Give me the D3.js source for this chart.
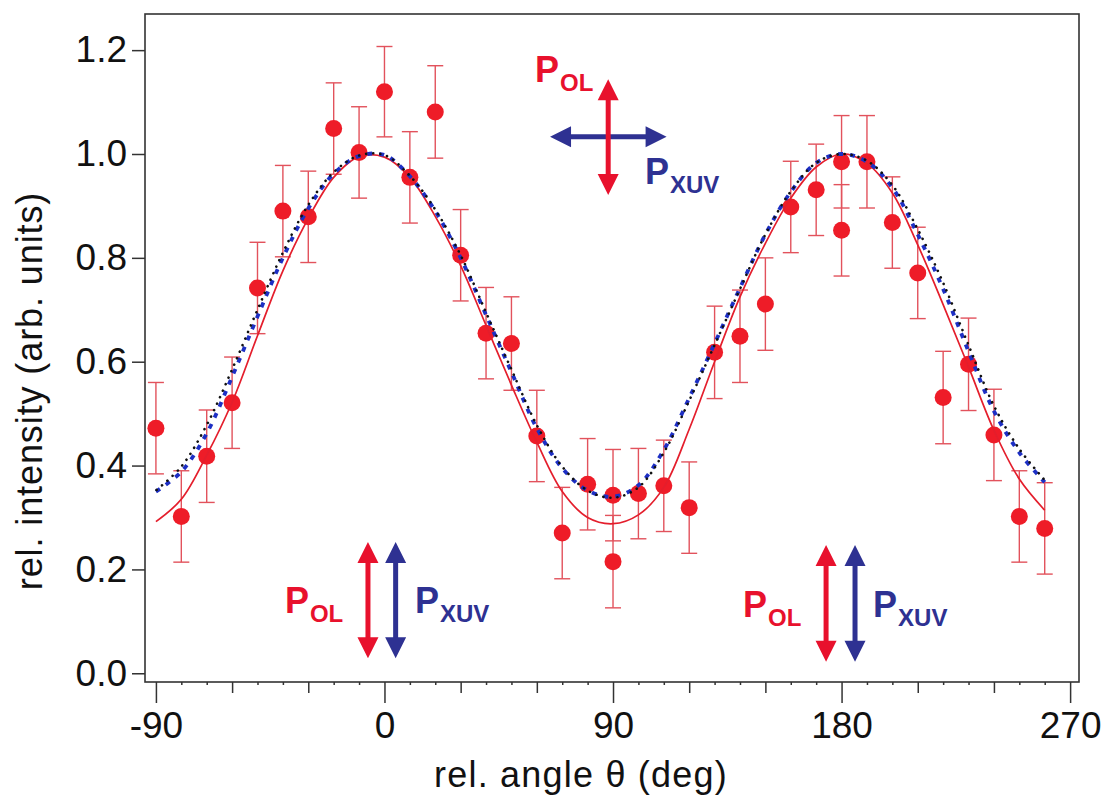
<!DOCTYPE html>
<html>
<head>
<meta charset="utf-8">
<script src="https://cdn.jsdelivr.net/npm/d3@7"></script>
<style>
  html, body { margin: 0; padding: 0; background: #fff; }
  svg { display: block; }
  text { font-family: "Liberation Sans", Arial, Helvetica, sans-serif; }
</style>
</head>
<body>
<svg id="chart" width="1105" height="798"></svg>
<script>
// Measured intensities (red points) vs. relative polarisation angle
const angle = [-90,-80,-70,-60,-50,-40,-30,-20,-10,0,10,20,30,40,50,60,70,80,90,90,
               100,110,120,130,140,150,160,170,180,180,190,200,210,220,230,240,250,260];
const intensity = [0.472,0.302,0.418,0.521,0.742,0.890,0.879,1.049,1.003,1.120,
                   0.955,1.081,0.805,0.655,0.635,0.457,0.270,0.364,0.343,0.215,
                   0.346,0.361,0.319,0.618,0.649,0.711,0.898,0.931,0.985,0.853,
                   0.985,0.868,0.771,0.531,0.595,0.459,0.302,0.279];
const error = [0.088,0.088,0.089,0.088,0.088,0.088,0.088,0.088,0.088,0.087,
               0.088,0.089,0.088,0.088,0.090,0.088,0.088,0.088,0.088,0.089,
               0.087,0.088,0.088,0.089,0.089,0.089,0.088,0.088,0.089,0.088,
               0.089,0.088,0.088,0.089,0.089,0.088,0.088,0.088];

// Model curves sampled every 10 degrees
const curveAngle = [-90,-80,-70,-60,-50,-40,-30,-20,-10,0,10,20,30,40,50,60,70,80,90,
                    100,110,120,130,140,150,160,170,180,190,200,210,220,230,240,250,260];
const fitRed = [0.292,0.335,0.420,0.522,0.650,0.775,0.876,0.955,0.995,0.994,
                0.955,0.880,0.785,0.670,0.555,0.445,0.350,0.300,0.288,
                0.305,0.358,0.470,0.600,0.725,0.828,0.915,0.975,1.000,0.982,
                0.925,0.825,0.710,0.590,0.468,0.374,0.314];
const fitBlue = [0.350,0.388,0.462,0.571,0.687,0.800,0.895,0.962,0.996,0.998,
                 0.957,0.890,0.800,0.690,0.580,0.472,0.395,0.352,0.340,
                 0.362,0.430,0.530,0.635,0.742,0.845,0.927,0.983,1.000,0.985,
                 0.935,0.845,0.740,0.620,0.505,0.425,0.368];
const fitBlack = [0.352,0.398,0.478,0.585,0.700,0.810,0.902,0.965,0.997,0.998,
                  0.958,0.893,0.805,0.695,0.585,0.478,0.398,0.352,0.338,
                  0.358,0.425,0.525,0.632,0.740,0.845,0.928,0.983,1.000,0.987,
                  0.940,0.855,0.752,0.632,0.515,0.432,0.372];

// Axis ticks
const yTicks = [0.0,0.2,0.4,0.6,0.8,1.0,1.2];
const xMajor = [-90,0,90,180,270];
const xMedium = [-60,-30,30,60,120,150,210,240];
const xMinor = [-80,-70,-50,-40,-20,-10,10,20,40,50,70,80,100,110,130,140,160,170,190,200,220,230,250,260];

const RED = "#ee1c28", ERR = "#e2525c", BLUE = "#2e3192";

const svg = d3.select("#chart");
svg.append("rect").attr("width",1105).attr("height",798).attr("fill","#fff");

const frame = {left:145, right:1079, top:14, bottom:682};
const x = d3.scaleLinear().domain([-94.3, 273.5]).range([frame.left, frame.right]);
const y = d3.scaleLinear().domain([-0.0168, 1.2696]).range([frame.bottom, frame.top]);

// Axes
const axisColor = "#333";
function styleAxis(g) {
  g.select(".domain").remove();
  g.selectAll(".tick line").attr("stroke", axisColor).attr("stroke-width", 1.5);
  g.selectAll(".tick text").attr("fill", "#111").attr("font-size", 37)
    .attr("font-family", "'Liberation Sans', Arial, sans-serif");
}
const hyphenInt = d => String(Math.round(d));   // plain hyphen-minus for negatives
svg.append("g").attr("transform",`translate(0,${frame.bottom})`)
  .call(d3.axisBottom(x).tickValues(xMinor).tickSize(3).tickFormat("")).call(styleAxis);
svg.append("g").attr("transform",`translate(0,${frame.bottom})`)
  .call(d3.axisBottom(x).tickValues(xMedium).tickSize(11).tickFormat("")).call(styleAxis);
svg.append("g").attr("transform",`translate(0,${frame.bottom})`)
  .call(d3.axisBottom(x).tickValues(xMajor).tickSize(21).tickPadding(9).tickFormat(hyphenInt))
  .call(styleAxis);
svg.append("g").attr("transform",`translate(${frame.left},0)`)
  .call(d3.axisLeft(y).tickValues(yTicks).tickSize(13).tickPadding(5).tickFormat(d => d.toFixed(1)))
  .call(styleAxis);

// Frame
svg.append("rect").attr("x",frame.left).attr("y",frame.top)
  .attr("width",frame.right-frame.left).attr("height",frame.bottom-frame.top)
  .attr("fill","none").attr("stroke",axisColor).attr("stroke-width",1.6);

// Axis titles
svg.append("text").attr("x",581).attr("y",787).attr("text-anchor","middle")
  .attr("font-size",36).attr("letter-spacing",1.2).attr("fill","#111").text("rel. angle θ (deg)");
svg.append("text").attr("transform","translate(42,391) rotate(-90)").attr("text-anchor","middle")
  .attr("font-size",36).attr("letter-spacing",0.9).attr("fill","#111").text("rel. intensity (arb. units)");

const plot = svg.append("g");

// Error bars
const pts = angle.map((a,i)=>({a, v:intensity[i], e:error[i]}));
const eb = plot.append("g").attr("stroke",ERR).attr("stroke-width",1.4).attr("fill","none");
pts.forEach(p=>{
  const cx = x(p.a), y1 = y(p.v + p.e), y2 = y(p.v - p.e);
  eb.append("line").attr("x1",cx).attr("x2",cx).attr("y1",y1).attr("y2",y2);
  eb.append("line").attr("x1",cx-8).attr("x2",cx+8).attr("y1",y1).attr("y2",y1);
  eb.append("line").attr("x1",cx-8).attr("x2",cx+8).attr("y1",y2).attr("y2",y2);
});

// Markers
plot.append("g").selectAll("circle").data(pts).join("circle")
  .attr("cx",d=>x(d.a)).attr("cy",d=>y(d.v)).attr("r",8.5).attr("fill",RED);

// Curves
const line = arr => d3.line().x((d,i)=>x(curveAngle[i])).y(d=>y(d)).curve(d3.curveCatmullRom.alpha(0.5))(arr);
plot.append("path").attr("d",line(fitRed)).attr("fill","none").attr("stroke","#e41e2c").attr("stroke-width",1.7);
plot.append("path").attr("d",line(fitBlue)).attr("fill","none").attr("stroke","#1d2fc4")
  .attr("stroke-width",3.8).attr("stroke-dasharray","5,7");
plot.append("path").attr("d",line(fitBlack)).attr("fill","none").attr("stroke","#111")
  .attr("stroke-width",2.6).attr("stroke-dasharray","0.1,7").attr("stroke-dashoffset",-8)
  .attr("stroke-linecap","round");

// Polarisation arrows (double headed)
function arrow(x1,y1,x2,y2,color){
  const g = svg.append("g");
  const px1 = x(x1), py1 = y(y1), px2 = x(x2), py2 = y(y2);
  const len = Math.hypot(px2-px1, py2-py1), ux = (px2-px1)/len, uy = (py2-py1)/len;
  const hl = 21, hw = 10.5;
  g.append("line").attr("x1",px1+ux*hl*0.8).attr("y1",py1+uy*hl*0.8)
    .attr("x2",px2-ux*hl*0.8).attr("y2",py2-uy*hl*0.8)
    .attr("stroke",color).attr("stroke-width",5);
  const head = (tx,ty,dx,dy)=>{
    const bx = tx-dx*hl, by = ty-dy*hl;
    return `M${tx},${ty}L${bx-dy*hw},${by+dx*hw}L${bx+dy*hw},${by-dx*hw}Z`;
  };
  g.append("path").attr("d",head(px2,py2,ux,uy)+head(px1,py1,-ux,-uy)).attr("fill",color);
}
function label(ax,ay,sub,color){
  const t = svg.append("text").attr("x",x(ax)).attr("y",y(ay)).attr("fill",color)
    .attr("font-weight","bold");
  t.append("tspan").attr("font-size",36).text("P");
  t.append("tspan").attr("font-size",24).attr("dy",9).attr("dx",1).text(sub);
}

// Top: crossed polarisations
arrow(65.2,1.033,111.1,1.033,BLUE);
arrow(88.1,1.144,88.1,0.921,"#e8112d");
label(59.3,1.138,"OL","#e8112d");
label(102.6,0.9415,"XUV",BLUE);

// Bottom left: parallel polarisations
arrow(-6.5,0.253,-6.5,0.029,"#e8112d");
arrow(4.4,0.253,4.4,0.029,BLUE);
label(-39.2,0.116,"OL","#e8112d");
label(12.0,0.116,"XUV",BLUE);

// Bottom right: parallel polarisations
arrow(173.9,0.247,173.9,0.022,"#e8112d");
arrow(185.3,0.247,185.3,0.022,BLUE);
label(141.2,0.108,"OL","#e8112d");
label(192.4,0.108,"XUV",BLUE);
</script>
</body>
</html>
